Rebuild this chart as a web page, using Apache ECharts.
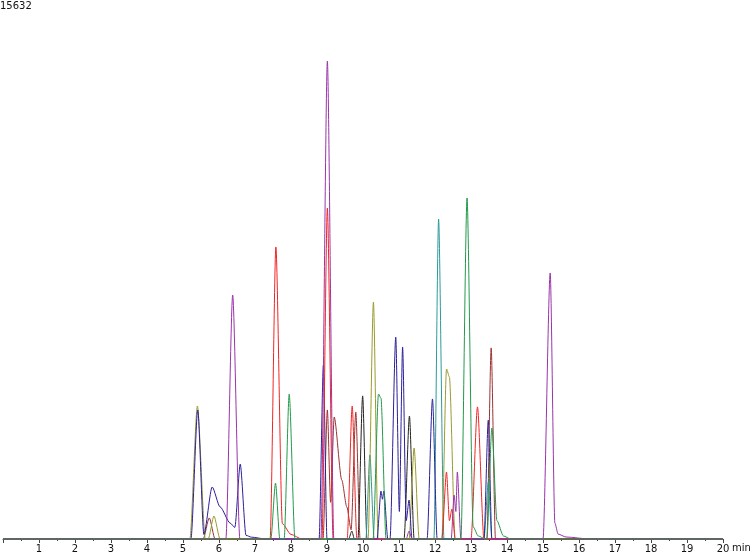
<!DOCTYPE html>
<html>
<head>
<meta charset="utf-8">
<script src="https://cdn.jsdelivr.net/npm/echarts@6/dist/echarts.min.js"></script>
<style>html,body{margin:0;padding:0;background:#fff}#c{width:750px;height:556px}</style>
</head>
<body>
<div id="c"></div>
<script>
// Chromatogram traces: [time (min), intensity (counts)]
var yMaxLabel = 15632;
var xTicks = [1,2,3,4,5,6,7,8,9,10,11,12,13,14,15,16,17,18,19,20];

var brown = [[0,0],[5.56,0],[5.73,690],[5.89,0],
  [8.89,0],[9.01,4220],[9.10,1200],[9.20,3990],[9.41,1930],[9.55,1050],[9.67,300],[9.80,4150],[9.92,0],
  [13.44,0],[13.56,6250],[13.68,0],[20,0]];
var black = [[0,0],[9.60,0],[9.69,260],[9.76,0],
  [9.86,0],[9.99,4680],[10.11,0],
  [11.14,0],[11.29,4020],[11.42,0],[20,0]];
var teal = [[0,0],[10.08,0],[10.19,2750],[10.31,0],
  [11.97,0],[12.10,10460],[12.25,0],
  [13.36,0],[13.48,1860],[13.58,0],[20,0]];
var olive = [[0,0],[5.19,0],[5.40,4350],[5.62,0],
  [5.70,0],[5.86,750],[6.03,0],
  [10.14,0],[10.29,7750],[10.42,0],
  [11.28,0],[11.42,2975],[11.56,0],
  [12.19,0],[12.32,5560],[12.40,5300],[12.56,0],[20,0]];
var navy = [[0,0],[5.22,0],[5.41,4220],[5.58,150],[5.81,1700],[6.03,1050],[6.31,520],[6.44,380],[6.59,2450],[6.75,120],[6.90,60],[7.3,0],
  [8.78,0],[8.90,5690],[9.00,0],
  [10.39,0],[10.50,1570],[10.54,1300],[10.58,1570],[10.69,0],
  [10.75,0],[10.91,6600],[11.01,900],[11.10,6280],[11.20,600],[11.28,1275],[11.36,0],
  [11.78,0],[11.93,4580],[12.06,0],
  [13.36,0],[13.48,3890],[13.58,0],[20,0]];
var red = [[0,0],[7.42,0],[7.58,9550],[7.76,500],[8.00,150],[8.30,0],
  [8.86,0],[9.01,10820],[9.17,0],
  [9.56,0],[9.70,4350],[9.83,0],
  [12.19,0],[12.32,2190],[12.40,600],[12.47,980],[12.56,0],
  [13.00,0],[13.18,4320],[13.36,0],[20,0]];
var purple = [[0,0],[6.19,0],[6.38,7980],[6.58,0],
  [8.83,0],[9.01,15632],[9.19,0],
  [11.20,0],[11.28,260],[11.36,0],
  [12.45,0],[12.53,1440],[12.58,900],[12.62,2190],[12.72,0],
  [15.00,0],[15.20,8700],[15.33,520],[15.42,160],[15.64,65],[16.30,0],[20,0]];
var green = [[0,0],[7.44,0],[7.57,1830],[7.69,0],
  [7.81,0],[7.95,4740],[8.11,0],
  [10.28,0],[10.43,4740],[10.50,4600],[10.64,0],
  [12.72,0],[12.89,11150],[13.06,400],[13.20,100],[13.40,0],
  [13.44,0],[13.58,3630],[13.72,600],[13.90,100],[14.10,0],[20,0]];

var traces = [
  {d: brown, c: '#993333'},
  {d: black, c: '#222222'},
  {d: teal, c: '#2a9a9a'},
  {d: olive, c: '#9a9a30'},
  {d: navy, c: '#2b1f99'},
  {d: red, c: '#f02424'},
  {d: purple, c: '#9933aa'},
  {d: green, c: '#22994a'}
];

var chart = echarts.init(document.getElementById('c'), null, {renderer: 'canvas'});
chart.setOption({
  animation: false,
  grid: {left: 3, right: 27, top: 61, bottom: 17},
  xAxis: {
    type: 'value', min: 0, max: 20, interval: 1,
    axisLine: {lineStyle: {color: '#444', width: 1}},
    axisTick: {length: 4, lineStyle: {color: '#444'}},
    minorTick: {show: true, splitNumber: 2, length: 2, lineStyle: {color: '#444'}},
    splitLine: {show: false},
    axisLabel: {
      margin: 5, color: '#111', fontSize: 10, fontFamily: 'DejaVu Sans',
      formatter: function (v) { return xTicks.indexOf(v) >= 0 ? String(v) : ''; }
    }
  },
  yAxis: {type: 'value', min: 0, max: yMaxLabel, show: false, splitLine: {show: false}},
  graphic: [
    {type: 'text', left: 0, top: 1, style: {text: String(yMaxLabel), font: '10px "DejaVu Sans"', fill: '#111'}},
    {type: 'text', left: 732, top: 543, style: {text: 'min', font: '10px "DejaVu Sans"', fill: '#111'}}
  ],
  series: traces.map(function (t) {
    return {
      type: 'line', data: t.d, showSymbol: false, smooth: 0.25, smoothMonotone: 'x',
      lineStyle: {color: t.c, width: 1}, clip: false, silent: true
    };
  })
});
</script>
</body>
</html>
